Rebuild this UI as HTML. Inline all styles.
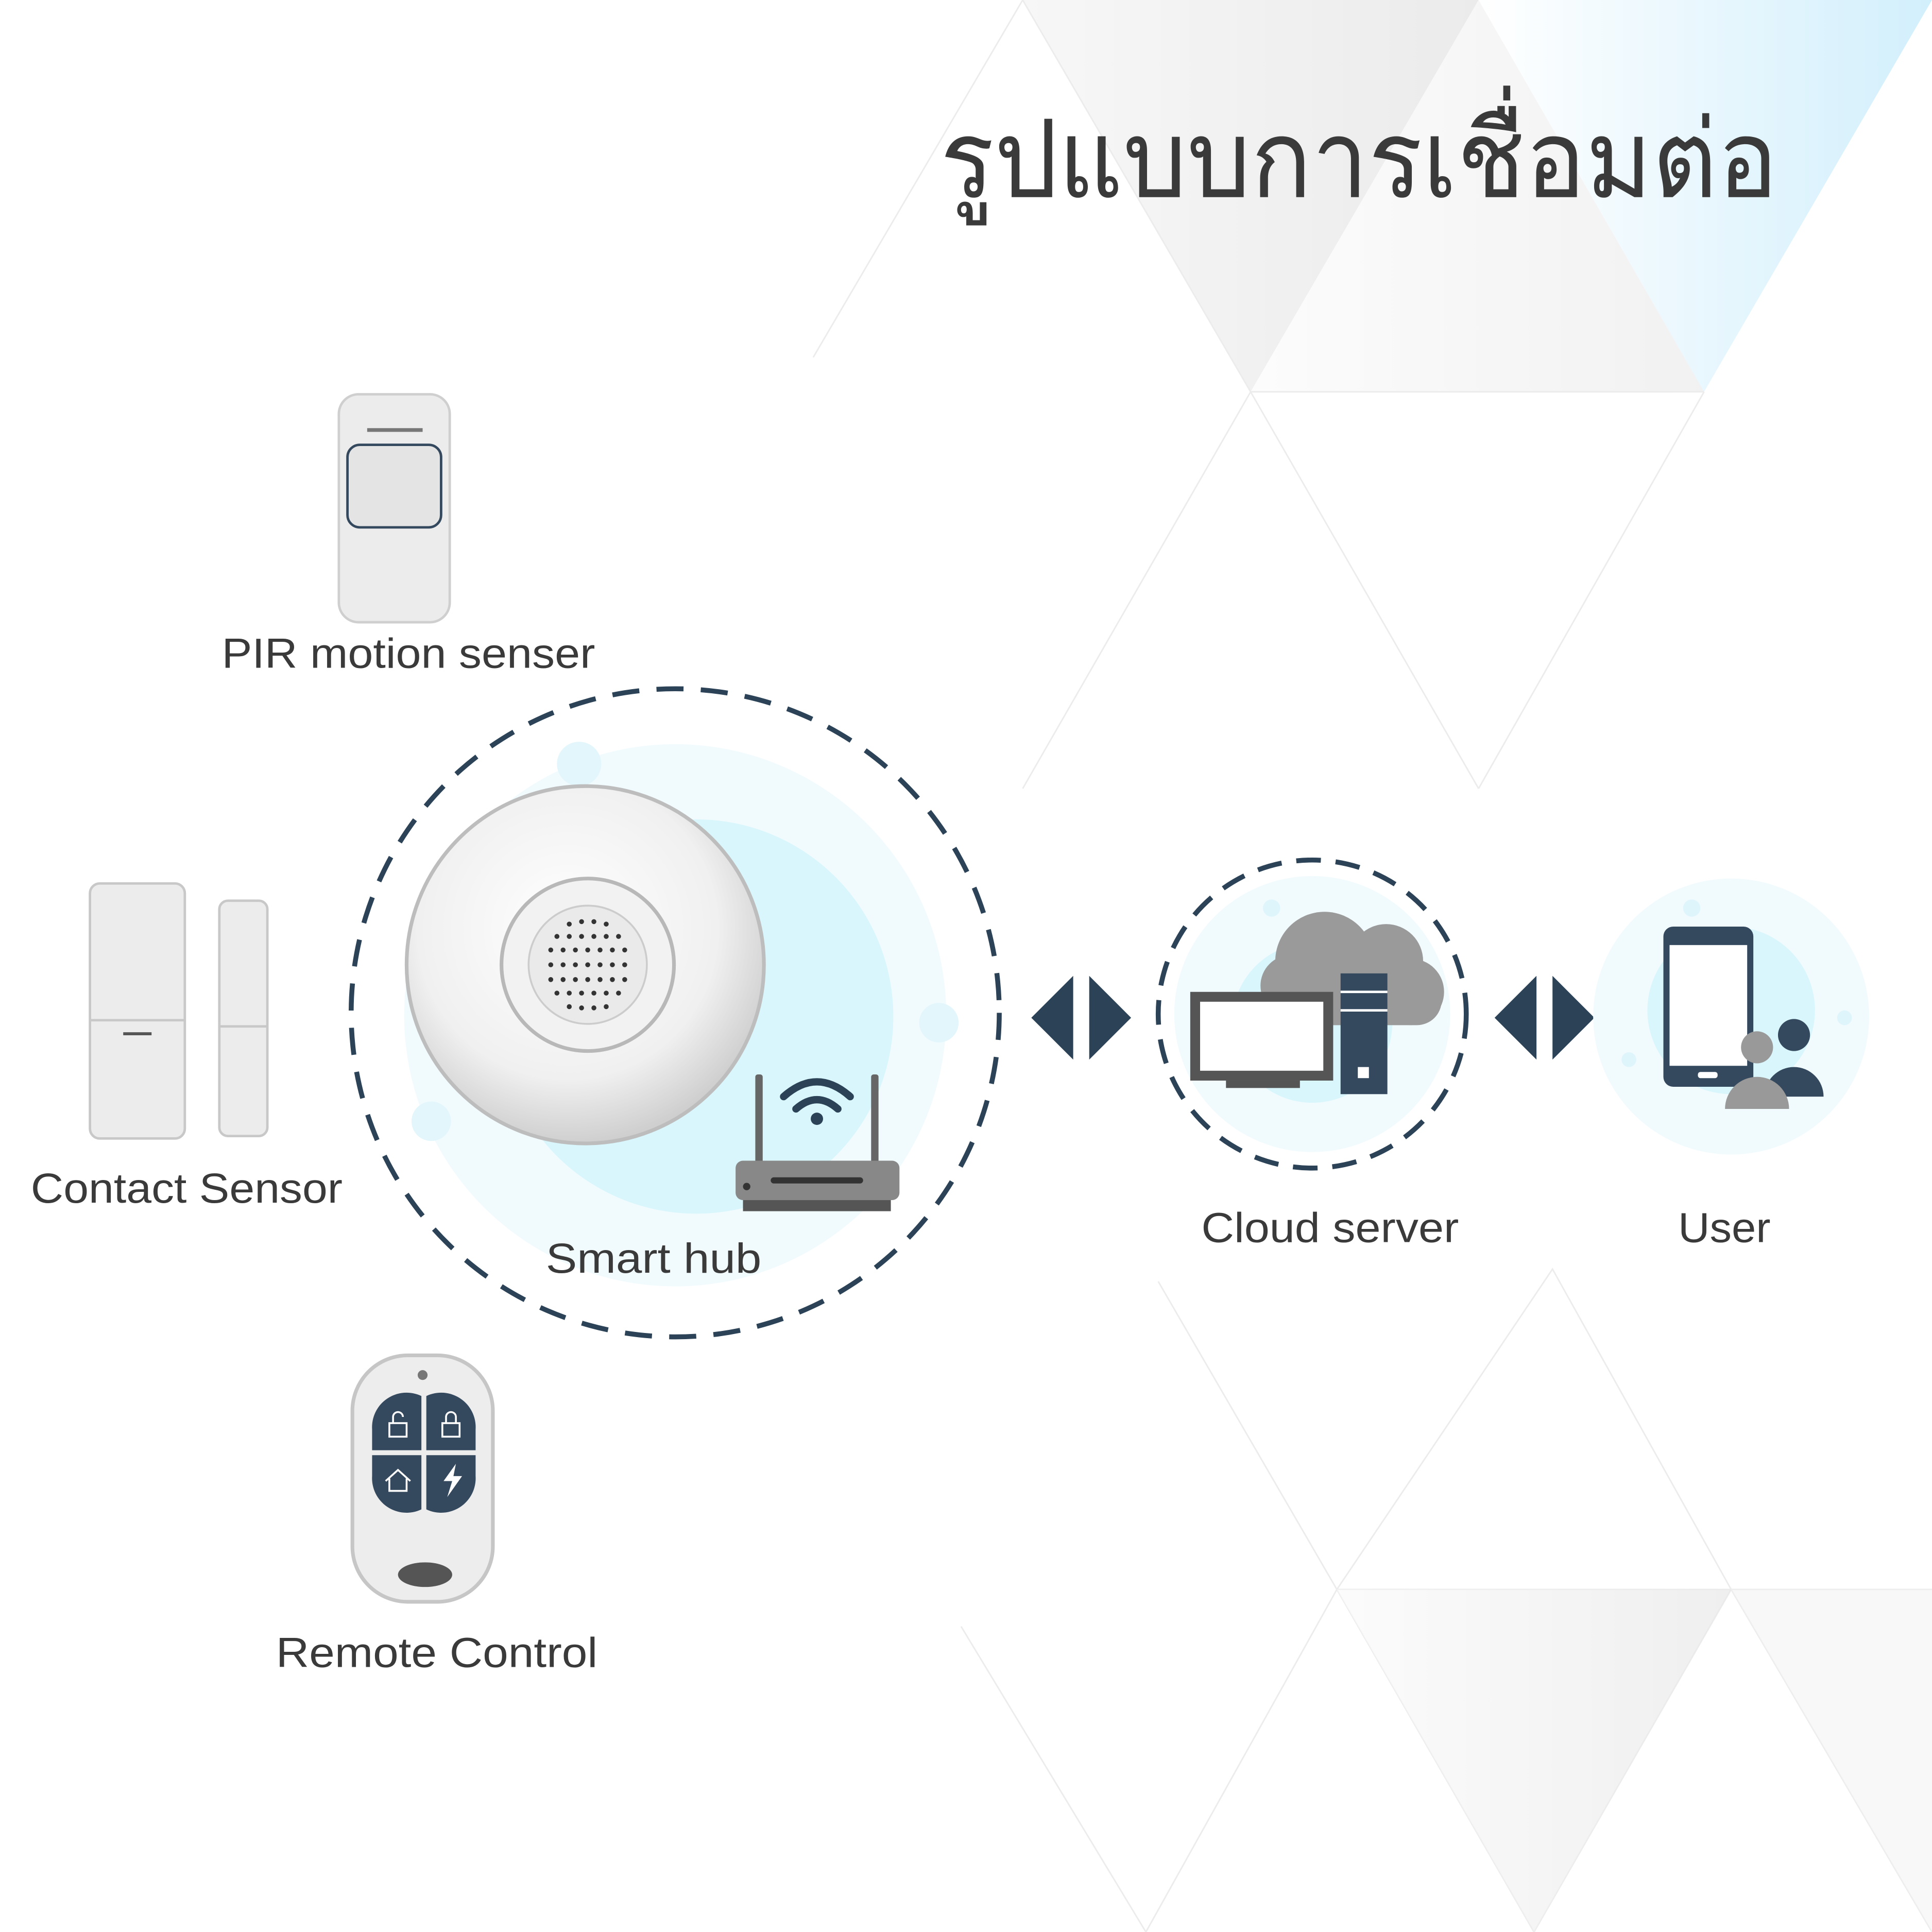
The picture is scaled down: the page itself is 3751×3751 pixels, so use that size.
<!DOCTYPE html>
<html><head><meta charset="utf-8"><style>
html,body{margin:0;padding:0;background:#fff}
svg{display:block}
text{font-family:"Liberation Sans","DejaVu Sans",sans-serif;fill:#3a3a3a}
</style></head><body>
<svg width="3751" height="3751" viewBox="0 0 1568 1568" xmlns="http://www.w3.org/2000/svg">
<defs>
<linearGradient id="g1" x1="0" y1="0" x2="1" y2="0"><stop offset="0" stop-color="#f7f7f7"/><stop offset="1" stop-color="#ebebeb"/></linearGradient>
<linearGradient id="g2" x1="0" y1="0" x2="1" y2="0"><stop offset="0" stop-color="#ffffff"/><stop offset="1" stop-color="#d2effc"/></linearGradient>
<linearGradient id="g3" x1="0" y1="0" x2="1" y2="0"><stop offset="0" stop-color="#fafafa"/><stop offset="1" stop-color="#e8e8e8"/></linearGradient>
<radialGradient id="hub" cx="0.45" cy="0.4" r="0.6"><stop offset="0" stop-color="#ffffff"/><stop offset="0.7" stop-color="#f0f0f0"/><stop offset="1" stop-color="#cfcfcf"/></radialGradient>
</defs>
<rect width="1568" height="1568" fill="#fff"/>
<polygon points="830,0 1200,0 1015,318" fill="url(#g1)"/>
<polygon points="1200,0 1568,0 1383,318" fill="url(#g2)"/>
<polygon points="1015,318 1383,318 1200,0" fill="url(#g3)" opacity="0.6"/>
<g stroke="#ececec" stroke-width="1.2" fill="none">
<polyline points="660,290 830,0 1015,318 1200,640"/>
<polyline points="1015,318 830,640"/>
<polyline points="1383,318 1200,640"/>
<line x1="1015" y1="318" x2="1383" y2="318"/>
<polyline points="940,1040 1085,1290 1260,1030 1405,1290"/>
<line x1="1085" y1="1290" x2="1568" y2="1290"/>
<polyline points="780,1320 930,1568 1085,1290 1245,1568 1405,1290 1568,1568"/>
</g>
<polygon points="1085,1290 1405,1290 1245,1568" fill="url(#g3)" opacity="0.7"/>
<polygon points="1405,1290 1568,1290 1568,1568" fill="#f3f3f3" opacity="0.6"/>

<text x="763" y="160" font-size="88" fill="#444" textLength="680" lengthAdjust="spacingAndGlyphs">รูปแบบการเชื่อมต่อ</text>

<rect x="275" y="320" width="90" height="185" rx="16" fill="#ececec" stroke="#cfcfcf" stroke-width="2"/>
<rect x="282" y="361" width="76" height="67" rx="10" fill="#e4e4e4" stroke="#34495e" stroke-width="2"/>
<line x1="298" y1="349" x2="343" y2="349" stroke="#777" stroke-width="3"/>
<text x="180" y="542" font-size="34" textLength="303" lengthAdjust="spacingAndGlyphs">PIR motion senser</text>

<rect x="73" y="717" width="77" height="207" rx="8" fill="#ececec" stroke="#c8c8c8" stroke-width="2"/>
<line x1="73" y1="828" x2="150" y2="828" stroke="#c8c8c8" stroke-width="2"/>
<line x1="100" y1="839" x2="123" y2="839" stroke="#555" stroke-width="2.5"/>
<rect x="178" y="731" width="39" height="191" rx="7" fill="#ececec" stroke="#c8c8c8" stroke-width="2"/>
<line x1="178" y1="833" x2="217" y2="833" stroke="#c8c8c8" stroke-width="2"/>
<text x="25" y="976" font-size="34" textLength="253" lengthAdjust="spacingAndGlyphs">Contact Sensor</text>

<circle cx="548" cy="824" r="220" fill="#f1fbfe"/>
<circle cx="565" cy="825" r="160" fill="#d8f6fc"/>
<circle cx="470" cy="620" r="18" fill="#e2f6fc"/>
<circle cx="762" cy="830" r="16" fill="#e2f6fc"/>
<circle cx="350" cy="910" r="16" fill="#e2f6fc"/>
<circle cx="548" cy="822" r="263" fill="none" stroke="#2c4357" stroke-width="4" stroke-dasharray="22 14"/>
<circle cx="475" cy="783" r="145" fill="url(#hub)" stroke="#bdbdbd" stroke-width="3"/>
<circle cx="477" cy="783" r="70" fill="#f2f2f2" stroke="#b8b8b8" stroke-width="3"/>
<circle cx="477" cy="783" r="48" fill="#eaeaea" stroke="#ccc" stroke-width="1.5"/>
<g fill="#333">
<circle cx="462" cy="750" r="2"/><circle cx="472" cy="748" r="2"/><circle cx="482" cy="748" r="2"/><circle cx="492" cy="750" r="2"/>
<circle cx="452" cy="760" r="2"/><circle cx="462" cy="760" r="2"/><circle cx="472" cy="760" r="2"/><circle cx="482" cy="760" r="2"/><circle cx="492" cy="760" r="2"/><circle cx="502" cy="760" r="2"/>
<circle cx="447" cy="771" r="2"/><circle cx="457" cy="771" r="2"/><circle cx="467" cy="771" r="2"/><circle cx="477" cy="771" r="2"/><circle cx="487" cy="771" r="2"/><circle cx="497" cy="771" r="2"/><circle cx="507" cy="771" r="2"/>
<circle cx="447" cy="783" r="2"/><circle cx="457" cy="783" r="2"/><circle cx="467" cy="783" r="2"/><circle cx="477" cy="783" r="2"/><circle cx="487" cy="783" r="2"/><circle cx="497" cy="783" r="2"/><circle cx="507" cy="783" r="2"/>
<circle cx="447" cy="795" r="2"/><circle cx="457" cy="795" r="2"/><circle cx="467" cy="795" r="2"/><circle cx="477" cy="795" r="2"/><circle cx="487" cy="795" r="2"/><circle cx="497" cy="795" r="2"/><circle cx="507" cy="795" r="2"/>
<circle cx="452" cy="806" r="2"/><circle cx="462" cy="806" r="2"/><circle cx="472" cy="806" r="2"/><circle cx="482" cy="806" r="2"/><circle cx="492" cy="806" r="2"/><circle cx="502" cy="806" r="2"/>
<circle cx="462" cy="817" r="2"/><circle cx="472" cy="818" r="2"/><circle cx="482" cy="818" r="2"/><circle cx="492" cy="817" r="2"/>
</g>
<rect x="613" y="872" width="6" height="75" rx="2" fill="#666"/>
<rect x="707" y="872" width="6" height="75" rx="2" fill="#666"/>
<rect x="597" y="942" width="133" height="32" rx="6" fill="#888"/>
<rect x="603" y="974" width="120" height="9" fill="#555"/>
<line x1="628" y1="958" x2="698" y2="958" stroke="#333" stroke-width="5" stroke-linecap="round"/>
<circle cx="606" cy="963" r="3" fill="#333"/>
<g fill="none" stroke="#2c4357" stroke-width="6" stroke-linecap="round">
<path d="M636,890 Q663,866 690,890"/><path d="M646,900 Q663,885 680,900"/>
</g>
<circle cx="663" cy="908" r="5" fill="#2c4357"/>
<text x="443" y="1033" font-size="34" textLength="175" lengthAdjust="spacingAndGlyphs">Smart hub</text>

<rect x="286" y="1100" width="114" height="200" rx="45" fill="#ededed" stroke="#c6c6c6" stroke-width="3"/>
<circle cx="343" cy="1116" r="4" fill="#777"/>
<path d="M302,1160 a28,28 0 0 1 40,-27 v44 h-40 z" fill="#34495e"/>
<path d="M346,1133 a28,28 0 0 1 40,27 v17 h-40 z" fill="#34495e"/>
<path d="M302,1181 h40 v44 a28,28 0 0 1 -40,-27 z" fill="#34495e"/>
<path d="M346,1181 h40 v17 a28,28 0 0 1 -40,27 z" fill="#34495e"/>
<g stroke="#fff" stroke-width="1.5" fill="none">
<rect x="316" y="1155" width="14" height="11"/><path d="M319,1155 v-5 a4,4 0 0 1 8,0"/>
<rect x="359" y="1155" width="14" height="11"/><path d="M362,1155 v-5 a4,4 0 0 1 8,0 v5"/>
<path d="M313,1202 l10,-9 10,9 M316,1200 v10 h14 v-10"/>
</g>
<path d="M370,1188 l-10,14 h7 l-4,13 12,-17 h-7 z" fill="#fff"/>
<ellipse cx="345" cy="1278" rx="22" ry="10" fill="#555"/>
<text x="224" y="1353" font-size="34" textLength="261" lengthAdjust="spacingAndGlyphs">Remote Control</text>

<g fill="#2c4357">
<polygon points="871,792 837,826 871,860"/><polygon points="884,792 918,826 884,860"/>
<polygon points="1247,792 1213,826 1247,860"/><polygon points="1260,792 1294,826 1260,860"/>
</g>

<circle cx="1065" cy="823" r="112" fill="#f1fbfe"/>
<circle cx="1065" cy="830" r="65" fill="#d8f6fc"/>
<circle cx="1065" cy="823" r="125" fill="none" stroke="#2c4357" stroke-width="4" stroke-dasharray="20 12"/>
<g fill="#9a9a9a">
<circle cx="1075" cy="780" r="40"/><circle cx="1125" cy="780" r="30"/><circle cx="1145" cy="805" r="27"/><circle cx="1048" cy="800" r="25"/>
<rect x="1030" y="790" width="140" height="42" rx="20"/>
</g>
<circle cx="1032" cy="737" r="7" fill="#dff5fc"/>
<rect x="966" y="805" width="116" height="72" fill="#555"/>
<rect x="974" y="813" width="100" height="56" fill="#fff"/>
<rect x="995" y="877" width="60" height="6" fill="#555"/>
<rect x="1088" y="790" width="38" height="98" fill="#34495e"/>
<line x1="1088" y1="805" x2="1126" y2="805" stroke="#fff" stroke-width="2"/>
<line x1="1088" y1="820" x2="1126" y2="820" stroke="#fff" stroke-width="2"/>
<rect x="1102" y="866" width="9" height="9" fill="#fff"/>
<text x="975" y="1008" font-size="34" textLength="209" lengthAdjust="spacingAndGlyphs">Cloud server</text>

<circle cx="1405" cy="825" r="112" fill="#f1fbfe"/>
<circle cx="1405" cy="820" r="68" fill="#d8f6fc"/>
<circle cx="1373" cy="737" r="7" fill="#dff5fc"/>
<circle cx="1497" cy="826" r="6" fill="#dff5fc"/>
<circle cx="1322" cy="860" r="6" fill="#dff5fc"/>
<rect x="1350" y="752" width="73" height="130" rx="8" fill="#34495e"/>
<rect x="1355" y="767" width="63" height="98" fill="#fff"/>
<rect x="1378" y="870" width="16" height="5" rx="2" fill="#fff"/>
<circle cx="1456" cy="840" r="13" fill="#34495e"/>
<path d="M1432,890 a24,24 0 0 1 48,0 z" fill="#34495e"/>
<circle cx="1426" cy="850" r="13" fill="#999"/>
<path d="M1400,900 a26,26 0 0 1 52,0 z" fill="#999"/>
<text x="1362" y="1008" font-size="34" textLength="75" lengthAdjust="spacingAndGlyphs">User</text>
</svg>
</body></html>
